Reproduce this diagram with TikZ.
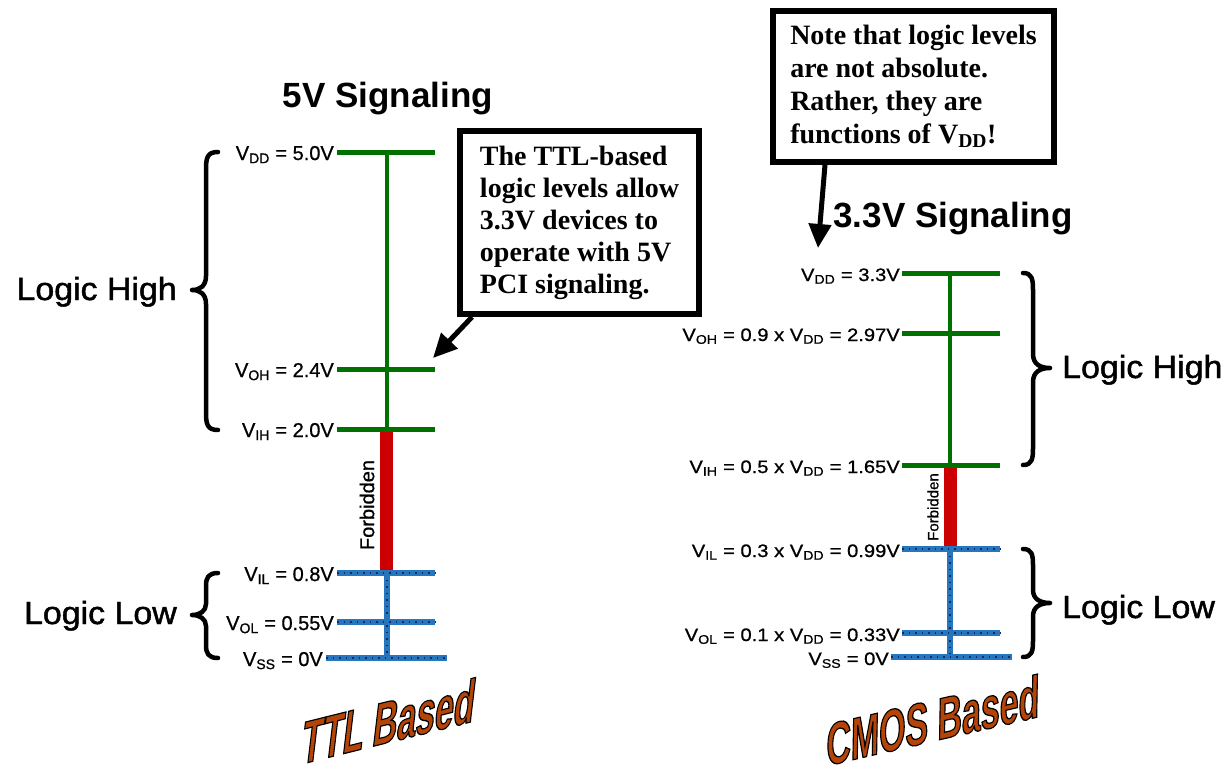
\documentclass[tikz,border=0pt]{standalone}
\usepackage{fontspec}
\setmainfont{Liberation Sans}
\newfontfamily\serifb{Liberation Serif}
\newfontfamily\llabfont{Liberation Sans}[FakeBold=0.8]
\newfontfamily\rlabfont{Liberation Sans}[FakeStretch=1.12, FakeBold=0.8]
\newfontfamily\logicfont{Liberation Sans}[FakeStretch=1.06, FakeBold=1.5]
\newfontfamily\wart{Liberation Sans}[FakeStretch=0.6, BoldFeatures={FakeBold=2}]
\usetikzlibrary{arrows.meta,calc}
\definecolor{lvgreen}{RGB}{0,112,0}
\definecolor{lvred}{RGB}{204,0,0}
\definecolor{lvblue}{RGB}{38,118,190}
\definecolor{lvdot}{RGB}{20,40,110}
\definecolor{wabrown}{RGB}{180,68,8}
\newcommand\sub[1]{\textsubscript{#1}}
\newcommand\outlined[1]{\special{pdf:literal direct 0 0 0 RG 2 Tr 3.5 w}#1\special{pdf:literal direct 0 Tr 1 w}}
\tikzset{
  hiline/.style={draw=lvgreen, line width=5pt},
  hivert/.style={draw=lvgreen, line width=4pt},
  forbline/.style={draw=lvred, line width=13pt},
  loline/.style={draw=lvblue, line width=5.5pt,
     postaction={draw=lvdot, line width=2pt, dash pattern=on 1.5pt off 5pt}},
  lblL/.style={anchor=base east, inner sep=0pt, font=\llabfont\fontsize{20}{24}\selectfont},
  lblR/.style={anchor=base east, inner sep=0pt, font=\rlabfont\fontsize{18}{22}\selectfont},
  title/.style={anchor=base, inner sep=0pt, font=\bfseries\fontsize{35}{40}\selectfont},
  logicW/.style={anchor=base east, inner sep=0pt, font=\logicfont\fontsize{32}{38}\selectfont},
  logicE/.style={anchor=base west, inner sep=0pt, font=\logicfont\fontsize{32}{38}\selectfont},
  bracestyle/.style={draw=black, line width=4.5pt, line cap=round, line join=round},
  callout/.style={draw=black, line width=6pt, fill=white, align=left, inner sep=0pt,
     font=\serifb\bfseries\fontsize{28}{32}\selectfont},
  arr/.style={draw=black, line width=5pt, -{Triangle[length=24pt,width=22pt]}},
  forbtext/.style={rotate=90, inner sep=0pt},
  wordart/.style={inner sep=0pt, text=wabrown, font=\wart\bfseries\fontsize{58}{64}\selectfont},
}
\begin{document}
\begin{tikzpicture}[x=1pt,y=-1pt]
\fill[white] (0,0) rectangle (1229,771);
\useasboundingbox (0,0) rectangle (1229,771);

% ---------------- left (TTL) ----------------
\node[title] (t5) at (388,107) {5V Signaling};
\draw[forbline] (386.5,431) -- (386.5,571);
\draw[hivert] (387,152) -- (387,429);
\draw[loline] (387,573) -- (387,658);
\draw[hiline] (337,152) -- (435,152);
\draw[hiline] (337,369) -- (435,369);
\draw[hiline] (337,429) -- (435,429);
\draw[loline] (337,573) -- (435,573);
\draw[loline] (337,622) -- (435,622);
\draw[loline] (326,658) -- (447,658);

\node[lblL] (lvdd) at (334,160) {V\sub{DD} = 5.0V};
\node[lblL] (lvoh) at (334,377) {V\sub{OH} = 2.4V};
\node[lblL] (lvih) at (334,437) {V\sub{IH} = 2.0V};
\node[lblL] (lvil) at (334,581) {V\sub{IL} = 0.8V};
\node[lblL] (lvol) at (334,630) {V\sub{OL} = 0.55V};
\node[lblL] (lvss) at (323,666) {V\sub{SS} = 0V};

\node[forbtext, font=\llabfont\fontsize{20}{24}\selectfont] (lforb) at (367,505) {Forbidden};

\draw[bracestyle] (218,152) .. controls (207,152) and (206,158) .. (206,170) -- (206,276)
   .. controls (206,286) and (200,290) .. (192,290) .. controls (200,290) and (206,294) .. (206,304)
   -- (206,412) .. controls (206,424) and (207,430) .. (218,430);
\draw[bracestyle] (218,573) .. controls (208,573) and (206,578) .. (206,586) -- (206,604)
   .. controls (206,611) and (200,615) .. (192,615) .. controls (200,615) and (206,619) .. (206,626)
   -- (206,645) .. controls (206,653) and (208,658) .. (218,658);
\node[logicW] (lhigh) at (177,300) {Logic High};
\node[logicW] (llow) at (177,624) {Logic Low};

\node[callout, minimum width=239pt, minimum height=183pt] (tnote)
  at (579.5,222.5) {The TTL-based\\ logic levels allow\\ 3.3V devices to\\ operate with 5V\\ PCI signaling.};
\coordinate (tA) at (433,358);
\draw[arr] ([xshift=15pt]tnote.south west) -- (tA);

\node[wordart, rotate=14, xslant=0.38] (ttl) at (389,721) {\outlined{TTL Based}};

% ---------------- right (CMOS) ----------------
\node[title] (t33) at (953,227) {3.3V Signaling};
\draw[forbline] (950,467) -- (950,547);
\draw[hivert] (950,273) -- (950,465);
\draw[loline] (950,549) -- (950,657);
\draw[hiline] (902,273) -- (1000,273);
\draw[hiline] (902,333) -- (1000,333);
\draw[hiline] (902,465) -- (1000,465);
\draw[loline] (902,549) -- (1000,549);
\draw[loline] (902,633) -- (1000,633);
\draw[loline] (891,657) -- (1012,657);

\node[lblR] (rvdd) at (900,281) {V\sub{DD} = 3.3V};
\node[lblR] (rvoh) at (900,341) {V\sub{OH} = 0.9 x V\sub{DD} = 2.97V};
\node[lblR] (rvih) at (900,473) {V\sub{IH} = 0.5 x V\sub{DD} = 1.65V};
\node[lblR] (rvil) at (900,557) {V\sub{IL} = 0.3 x V\sub{DD} = 0.99V};
\node[lblR] (rvol) at (900,641) {V\sub{OL} = 0.1 x V\sub{DD} = 0.33V};
\node[lblR] (rvss) at (889,665) {V\sub{SS} = 0V};

\node[forbtext, font=\llabfont\fontsize{15}{18}\selectfont] (rforb) at (933,507) {Forbidden};

\draw[bracestyle] (1023,273) .. controls (1032,273) and (1033,279) .. (1033,290) -- (1033,354)
   .. controls (1033,364) and (1040,368) .. (1050,368) .. controls (1040,368) and (1033,372) .. (1033,382)
   -- (1033,448) .. controls (1033,459) and (1032,465) .. (1023,465);
\draw[bracestyle] (1023,549) .. controls (1032,549) and (1033,555) .. (1033,565) -- (1033,590)
   .. controls (1033,599) and (1040,603) .. (1050,603) .. controls (1040,603) and (1033,607) .. (1033,616)
   -- (1033,641) .. controls (1033,651) and (1032,657) .. (1023,657);
\node[logicE] (rhigh) at (1062,378) {Logic High};
\node[logicE] (rlow) at (1062,618) {Logic Low};

\node[callout, minimum width=281pt, minimum height=151pt,
      font=\serifb\bfseries\fontsize{28}{33}\selectfont] (nnote)
  at (913.5,86.5) {Note that logic levels\\ are not absolute.\\ Rather, they are\\ functions of V\sub{DD}!};
\coordinate (nA) at (818,248);
\draw[arr] ([xshift=55pt]nnote.south west) -- (nA);

\node[wordart, rotate=13, xslant=0.25] (cmos) at (933,720) {\outlined{CMOS Based}};
\end{tikzpicture}
\end{document}
